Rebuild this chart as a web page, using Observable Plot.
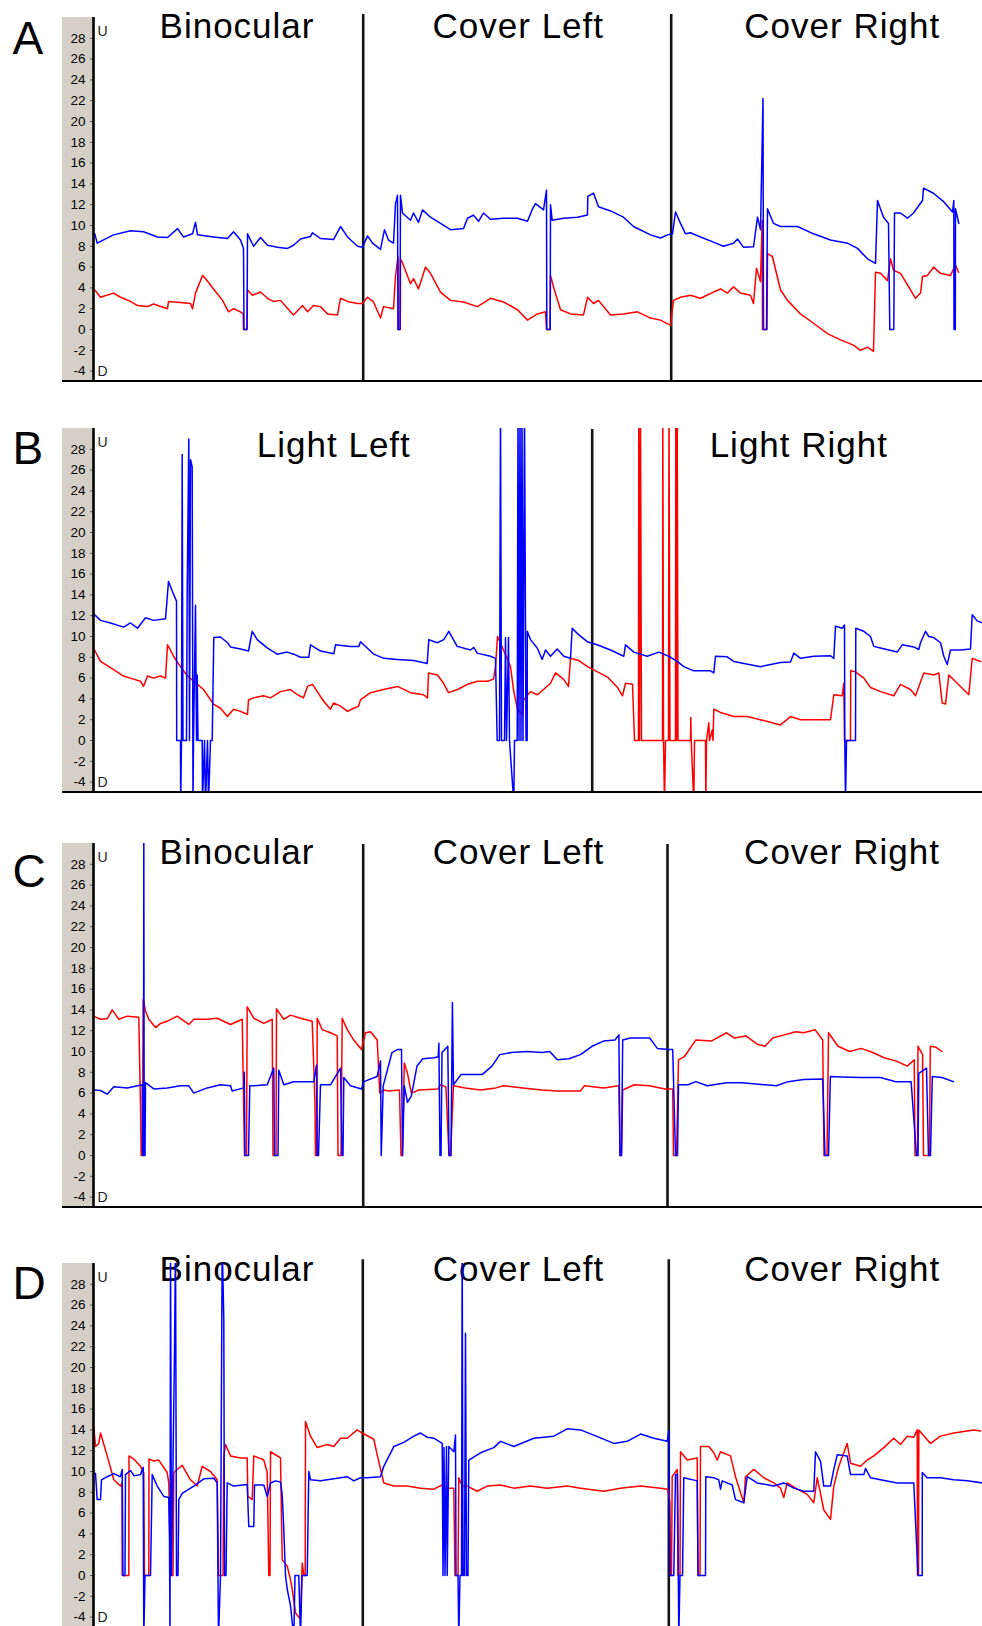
<!DOCTYPE html>
<html><head><meta charset="utf-8">
<script src="https://cdn.jsdelivr.net/npm/d3@7"></script>
<script src="https://cdn.jsdelivr.net/npm/@observablehq/plot@0.6"></script>
<style>
html,body{margin:0;padding:0;background:#fff;}
#chart{position:relative;width:982px;height:1626px;overflow:hidden;}
.band{position:absolute;background:#d4d0c8;}
.base{position:absolute;background:#000;}
.panel{position:absolute;left:0;}
</style></head><body><div id="chart"></div>
<script>
// y axis ticks (degrees; U = up, D = down)
const yTicks = [-4,-2,0,2,4,6,8,10,12,14,16,18,20,22,24,26,28];
const panelLetters = ["A","B","C","D"];
// condition labels and their centre time
const titlesA = [{t:143.5,label:"Binocular"},{t:424.8,label:"Cover Left"},{t:748.7,label:"Cover Right"}];
const titlesB = [{t:240.3,label:"Light Left"},{t:705.3,label:"Light Right"}];
const titlesC = [{t:143.5,label:"Binocular"},{t:425,label:"Cover Left"},{t:748.5,label:"Cover Right"}];
const titlesD = [{t:143.5,label:"Binocular"},{t:425,label:"Cover Left"},{t:748.7,label:"Cover Right"}];
// condition change times
const dividersA = [269.7, 577.7];
const dividersB = [498.7];
const dividersC = [269.7, 574];
const dividersD = [269.3, 575.3];

// series: [time, value]
const aBlue = [[1.3,9.2],[3.7,8.3],[20,9.1],[37,9.5],[50,9.4],[64,8.9],[74,8.85],[84,9.7],[90,8.9],[99,9.2],[102,10.3],[104,9.1],[120,8.9],[134,8.75],[140,9.4],[147,8.6],[150,7.8],[150.5,0],[153.5,0],[154,9.2],[160,8.0],[167,8.85],[174,8.1],[184,7.9],[194,7.8],[200,8.1],[207,8.7],[217,8.95],[219,9.3],[227,8.75],[240,8.65],[247,9.9],[254,8.9],[264,8.0],[269,7.9],
[274,9.0],[279,8.3],[287,7.7],[291,9.6],[295,8.6],[300,8.3],[302,12.1],[304,12.9],[304.5,0],[306.5,0],[307,12.9],[309,11.2],[317,10.5],[320,11.2],[325,10.3],[329,11.5],[337,10.8],[347,10.2],[357,9.6],[370,9.7],[374,10.7],[380,11.0],[385,10.4],[390,11.2],[397,10.6],[410,10.7],[424,10.7],[434,10.4],[439,11.6],[442,12.1],[450,11.5],[453,13.4],[453.3,0],[456.7,0],[457,12.0],[458.7,10.5],[470,10.7],[484,10.8],[494,11.0],[494.3,12.8],[500,13.1],[505,11.8],[517,11.4],[530,10.8],[540,9.9],[557,9.1],[567,8.8],[574,9.1],[579,9.2],
[582,11.3],[587,10.2],[592,9.2],[597,9.3],[607,8.9],[620,8.4],[630,8.0],[640,8.3],[644,8.7],[650,7.9],[660,7.95],[664,10.8],[667,9.6],[669.5,22.2],[670,0],[673,0],[674,11.6],[680,10.2],[687,9.9],[704,9.9],[720,9.2],[737,8.6],[754,8.3],[764,7.8],[774,6.8],[782,6.35],[784,12.4],[790,10.8],[795,10.2],[796.3,0],[800.3,0],[801,11.2],[807,11.2],[814,10.7],[820,11.2],[829,12.4],[830,13.6],[840,13.1],[850,12.3],[859,11.3],[860.3,12.4],[860.5,0],[861.8,0],[862,11.6],[865.3,10.2]];
const aRed = [[1.3,3.8],[7,3.1],[20,3.5],[27,3.1],[37,2.7],[44,2.3],[54,2.2],[60,2.45],[74,2.0],[75,2.7],[87,2.6],[97,2.5],[99,2.0],[102,3.5],[109,5.2],[112,4.9],[120,3.9],[129,2.8],[135,1.7],[140,2.0],[147,1.7],[149.7,1.5],[150,0],[153.5,0],[154,3.8],[159,3.3],[167,3.6],[174,3.0],[180,2.7],[187,2.8],[197,1.7],[200,1.4],[209,2.3],[214,1.7],[220,2.3],[227,2.2],[234,1.5],[244,1.4],[247,3.0],[254,2.7],[264,2.5],[269,2.5],
[274,3.1],[280,2.65],[287,1.1],[290,2.2],[300,2.0],[302,5.1],[304.5,7.0],[304.7,0],[306.8,0],[307,6.8],[309,6.4],[317,4.4],[320,4.9],[325,3.9],[332,6.0],[337,5.4],[347,3.6],[357,2.8],[370,2.65],[384,2.2],[397,3.0],[410,2.65],[424,1.9],[434,0.9],[444,1.5],[452,1.7],[453,0],[456.5,0],[457,5.2],[460,4.1],[467,1.9],[477,1.5],[490,1.4],[494,3.1],[500,2.5],[505,2.8],[517,1.4],[530,1.5],[544,1.7],[557,1.1],[567,0.9],[577,0.4],
[580,2.8],[587,3.1],[597,3.3],[607,3.0],[620,3.6],[627,3.9],[634,3.5],[640,4.1],[647,3.5],[657,3.3],[660,2.5],[663,5.9],[667,4.6],[668.7,10.5],[669,0],[673.5,0],[674,7.3],[679,7.0],[687,3.8],[694,2.8],[707,1.5],[720,0.6],[734,-0.4],[747,-1.0],[760,-1.5],[767,-2.0],[774,-1.7],[780,-2.1],[782,5.5],[787,5.4],[794,4.7],[797,6.8],[800,5.7],[807,5.4],[817,3.8],[822,3.0],[827,3.5],[829,5.1],[834,5.2],[840,6.0],[847,5.4],[857,5.2],[862,6.2],[865,5.5]];

const bBlue = [[1,12.1],[7,11.55],[17,11.3],[30,10.9],[37,11.3],[44,10.8],[52,11.8],[60,11.55],[72,11.7],[75,15.3],[79,14.3],[83,13.4],[83.2,0],[87,0],[87.2,-6],[88,0],[88.7,27.5],[89.5,0],[93,0],[93.7,14.3],[95.3,29.0],[96,0],[97,27.0],[98.7,26.3],[99.5,-6],[100,0],[102,13.0],[103,0],[103.7,6.3],[104.5,0],[108.7,0],[109,-6],[111,0],[112,-6],[114,0],[115,-6],[117,0],[118.7,0],[119.5,5.0],[120.3,9.9],[127,9.95],[134,9.4],[137,9.0],[147,8.8],[155,8.6],[158.7,10.5],[163.7,9.7],[173.7,8.9],[183.7,8.3],[193.7,8.5],[200.3,8.3],[207,8.0],[215.3,8.0],[217,9.2],[227,8.6],[240.3,8.35],[242,9.2],[257,9.05],[265.3,9.05],[267,9.5],[273.7,8.9],[280.3,8.3],[290.3,7.9],[303.7,7.8],[320.3,7.7],[333.7,7.4],[335.3,9.7],[343.7,9.4],[350.3,9.7],[355.3,10.5],[363.7,9.05],[377,8.7],[380.3,8.95],[383.7,8.4],[397,8.1],[402,7.9],[403.7,0],[406,0],[407,32],[408,0],[411,0],[412,9.9],[413,0],[415,9.9],[416,0],[420.3,-6],[421,0],[423.7,0],[424.5,32],[425.5,0],[426.5,32],[427.5,0],[428.5,32],[429.5,0],[431,32],[432.5,0],[433.7,0],[433.8,10.5],[437,9.7],[443.7,8.9],[448.7,7.8],[452,8.7],[457,8.1],[463.7,8.8],[470.3,8.1],[477,7.9],[478.7,10.8],[483.7,10.3],[493.7,9.5],[503.7,9.2],[517,8.7],[530.3,8.1],[532,9.2],[540.3,8.5],[553.7,8.1],[565.3,8.5],[575.3,8.1],[583.7,7.6],[590.3,7.1],[600.3,6.7],[617,6.7],[620.3,6.5],[622,8.1],[633.7,8.05],[640.3,7.6],[667,7.1],[687,7.5],[697,7.55],[700.3,8.4],[707,7.9],[720.3,8.1],[737,8.15],[740.3,7.9],[742,11.0],[748.7,10.8],[751,11.1],[751.3,0],[752,-6],[753,0],[762,0],[762.3,10.8],[770.3,10.5],[777,10.0],[780.3,9.05],[787,8.9],[803.7,8.5],[808.7,9.2],[820.3,9.0],[825.3,8.75],[827,9.4],[832,10.5],[835.3,10.0],[840.3,9.9],[847,9.4],[850.3,8.1],[853.7,7.3],[857,8.7],[867,8.7],[877,8.8],[878.7,12.1],[883.7,11.5],[889,11.3]];
const bRed = [[1,8.7],[7,7.6],[17,7.0],[30,6.2],[40,5.9],[47,5.7],[50,5.2],[54,6.2],[60,6.0],[67,6.2],[72,6.0],[74,9.2],[77,8.7],[80,8.1],[87,7.1],[94,6.2],[104,5.4],[110,4.9],[120,3.5],[127,3.1],[134,2.3],[140,3.0],[147,2.8],[154,2.5],[155,3.9],[160,4.1],[170,4.3],[177,4.1],[187,4.7],[197,4.9],[204,4.4],[210,4.1],[214,5.2],[219,5.4],[230,3.8],[237,3.0],[240,3.6],[247,3.3],[254,2.8],[260,3.1],[265,3.3],[267,3.9],[277,4.6],[290,4.9],[304,5.2],[317,4.6],[330,4.4],[334,4.1],[335,6.5],[344,6.3],[350,5.5],[355,4.6],[364,4.9],[374,5.4],[384,5.7],[394,5.7],[400,5.9],[402,7.1],[404,10.0],[410,8.7],[417,7.1],[420,4.9],[424,3.0],[429,2.5],[430,3.9],[437,4.7],[444,4.4],[450,4.9],[457,5.5],[462,6.5],[470,5.9],[475,5.2],[477,7.9],[485,7.7],[494,7.1],[504,6.6],[514,6.1],[524,5.1],[529,4.3],[532,5.5],[539,5.4],[541,0],[545,0],[545.3,32],[546,0],[547,32],[548,0],[569,0],[569.3,32],[570,0],[571,-6],[572,0],[575,0],[575.5,32],[576.5,0],[582,0],[582.3,32],[583,0],[583.7,32],[584.5,0],[597,0],[597.3,2.2],[597.7,0],[600.3,-6],[601,0],[612,0],[612.3,-6],[613,0],[615.3,1.7],[616,0],[618.7,1.0],[619.5,0],[620.3,3.0],[627,2.7],[640.3,2.3],[653.7,2.3],[667,2.0],[687,1.5],[697,2.3],[707,2.0],[720.3,2.0],[737,2.0],[740.3,4.4],[748.7,4.3],[750.3,5.5],[751,0],[757,0],[757.2,6.7],[762,6.6],[770.3,6.0],[777,5.1],[787,4.7],[800.3,4.3],[807,5.4],[817,4.9],[822,4.3],[830.3,6.5],[840.3,6.3],[845.3,6.5],[848.7,3.6],[852,3.5],[855.3,6.3],[863.7,5.5],[875.3,4.4],[878.7,7.9],[887,7.6]];

const cBlue = [[0.3,6.3],[7,6.25],[13.7,5.9],[20.3,6.6],[33.7,6.5],[48.7,6.8],[49,0],[50,0],[50.3,32],[50.7,0],[51.5,0],[52,7.0],[60.3,6.4],[73.7,6.5],[87,6.7],[95.3,6.7],[100.3,6.0],[113.7,6.5],[127,6.8],[137,6.7],[138.7,6.2],[150.3,6.5],[150.8,8.0],[151.5,0],[155,0],[156.3,6.7],[160.3,6.7],[173.7,6.8],[180.3,8.4],[181,0],[184.5,0],[185.3,8.2],[190.3,6.8],[200.3,7.1],[220.3,7.1],[223,8.7],[223.7,0],[225,0],[227,6.8],[237,6.8],[247,8.4],[248.5,0],[249.5,0],[250.3,7.5],[257,6.7],[268,6.4],[270.3,7.1],[283.7,7.6],[287,9.1],[287.7,0],[288.5,2.5],[289.7,6.7],[298.5,9.9],[304.3,10.2],[308,10.2],[309,0],[310.8,6.7],[314,5.1],[317.8,5.7],[323.5,8.6],[329.3,9.3],[340.8,9.4],[344.7,9.5],[345.4,10.8],[346.5,0],[347.5,0],[348.5,9.9],[354.3,10.5],[355.5,0],[357.5,0],[358.9,14.7],[360,6.8],[367.7,7.8],[388.9,7.8],[398.5,8.6],[406.2,9.7],[417.7,9.9],[433.1,10.0],[448.5,9.9],[456.2,10.0],[463.9,9.2],[475.4,9.3],[487,9.7],[498.5,10.5],[510,11.0],[521.5,11.1],[525.4,11.6],[526.5,0],[528,0],[529.2,11.1],[536.9,11.3],[556.2,11.3],[563.8,10.3],[575.4,10.2],[579.2,10.2],[582,0],[584,0],[585,6.8],[594.6,6.8],[602.3,7.1],[613.8,6.7],[633,7.0],[648.4,7.0],[671.5,6.8],[683,6.7],[694.6,7.1],[710,7.3],[729.2,7.35],[731.5,0],[735,0],[736.9,7.6],[748.4,7.55],[767.6,7.5],[786.9,7.5],[802.2,7.1],[817.6,7.1],[823,0],[824.5,0],[825.3,7.9],[833,8.4],[835,0],[837,0],[838.8,7.6],[848.4,7.5],[859.9,7.1]];
const cRed = [[0.3,13.4],[7,13.1],[13.7,13.15],[18.7,14.0],[25.3,13.1],[33.7,13.4],[45.3,13.3],[47,4.7],[47.7,0],[49,0],[49.7,15.0],[52,13.9],[55.3,13.1],[62,12.3],[67,12.7],[73.7,12.9],[83.7,13.4],[95.3,12.6],[100.3,13.1],[113.7,13.1],[123.7,13.2],[137,12.6],[148.7,13.1],[150.3,4.0],[151,0],[153,0],[153.7,14.3],[160.3,13.2],[170.3,12.7],[178.7,13.1],[179.5,0],[182.5,0],[183,14.1],[190.3,13.1],[197,13.5],[207,13.2],[218.7,12.9],[221.5,5.0],[222,0],[223.5,0],[223.7,13.2],[228.7,12.1],[237,11.8],[243.7,11.5],[244.5,0],[247.5,0],[248.7,13.2],[253.7,12.1],[260.3,11.1],[268,10.2],[272,11.8],[277,11.9],[283.7,11.1],[286.3,6.0],[290.3,6.3],[295.3,6.2],[306,6.3],[307.5,0],[309,0],[310.8,8.9],[314,7.9],[317.8,6.0],[325.5,6.3],[344.7,6.4],[346.6,6.8],[352.4,6.6],[355.5,0],[357,0],[360,6.7],[371.6,6.5],[387,6.3],[402.4,6.5],[410,6.7],[429.3,6.5],[448.5,6.3],[463.9,6.2],[487,6.2],[490.8,6.7],[510,6.5],[525.4,6.7],[526.5,0],[528,0],[529.2,6.3],[540.8,6.8],[556,6.7],[571.5,6.4],[579.2,6.4],[580,0],[583,0],[585,9.2],[590.8,9.5],[602.3,11.1],[617.7,11.0],[633,11.8],[640.7,11.3],[652.3,11.5],[663.8,10.7],[671.5,10.5],[679.2,11.3],[690.7,11.6],[702.3,11.9],[710,11.8],[721.5,12.1],[729.2,11.1],[730.5,0],[733.5,0],[735,11.8],[744.6,10.5],[756,10.0],[767.6,10.3],[779.2,9.9],[790.7,9.4],[802.2,9.1],[813.8,8.6],[820.7,9.2],[821.5,0],[824,0],[824.5,10.5],[829.1,9.7],[830,0],[836,0],[836.8,10.5],[842.6,10.4],[848.4,10.0]];

const dBlue = [[0.3,9.9],[2,9.8],[3.7,7.3],[7,7.3],[8,9.2],[13.7,9.5],[20.3,9.8],[27,9.5],[28.7,10.2],[29.5,0],[31.5,0],[32,9.7],[37,10.1],[40.3,9.6],[47,9.7],[49.7,10.4],[50.3,-6],[51.5,0],[57,0],[58.7,9.7],[63.7,8.6],[70.3,7.6],[75.3,7.5],[76,3.6],[76.5,-6],[77,32],[78,0],[81,21.5],[82,32],[83,0],[84.5,0],[85.3,7.3],[88.7,7.9],[100.3,8.6],[110.3,9.3],[120.3,9.35],[123.7,8.9],[125,-6],[127,0],[128.7,32],[130.3,24.6],[131,0],[132.5,0],[133.7,8.9],[140.3,8.6],[153.7,8.75],[155.3,4.7],[160.3,4.7],[161,8.7],[170.3,8.7],[173.7,7.6],[177,8.9],[182,9.1],[187,9.0],[188.7,7.8],[190.3,4.4],[192,0],[193.7,-1.3],[197,-2.9],[200.3,-6],[201.5,0],[205.3,0],[207,-6],[208.5,0],[213.7,0],[215.3,10.0],[217,9.2],[227,9.1],[240.3,9.3],[253.7,9.5],[260.3,9.1],[267,9.4],[273.7,9.4],[287,9.5],[290.3,10.5],[300.3,12.4],[310.3,12.8],[320.3,13.4],[327,13.7],[333.7,13.3],[340.3,13.2],[348.7,12.7],[349.5,0],[350.5,12.3],[351.5,0],[353,12.4],[353.7,0],[355.3,12.4],[360.3,11.9],[362,13.5],[362.5,0],[364.5,0],[365.3,-6],[366.5,0],[368,0],[368.7,32],[369.5,0],[371,0],[372,23.3],[373,0],[374.5,0],[375.3,11.1],[387,11.8],[400.3,12.3],[407,12.9],[420.3,12.4],[440.3,13.2],[460.3,13.4],[473.7,14.1],[487,14.0],[500.3,13.5],[520.3,12.7],[533.7,12.9],[547,13.6],[560.3,13.2],[573.7,12.9],[575.3,13.9],[576.5,0],[580.3,0],[582,9.7],[584,9.7],[585.3,-6],[586.5,0],[589,0],[590.3,9.4],[603.7,9.1],[604.5,0],[612,0],[612.3,9.5],[620.3,9.4],[625.3,9.2],[627,8.3],[628.7,9.1],[638.7,8.7],[642,7.3],[650.3,7.0],[653.7,9.5],[663.7,8.9],[680.3,8.6],[690.3,8.9],[700.3,8.4],[710.3,8.1],[720.3,8.1],[722,11.9],[727,11.0],[730.3,8.6],[737,8.6],[740.3,10.2],[743.7,11.6],[753.7,11.5],[757,9.7],[770.3,9.7],[772,10.3],[777,9.4],[787,9.2],[803.7,8.9],[820.3,8.9],[824.5,0],[828.7,0],[828.8,9.9],[833.7,9.4],[847,9.4],[860.3,9.2],[873.7,9.1],[889,8.9]];
const dRed = [[0.3,14.3],[2,12.4],[5.3,12.7],[7,13.7],[13.7,11.5],[20.3,9.2],[27,8.6],[28.5,8.9],[28.7,0],[35.3,0],[35.5,11.5],[40.3,11.2],[47,10.5],[50.3,9.9],[51,0],[55.3,0],[55.5,11.2],[60.3,11.0],[65.3,11.1],[73.7,9.9],[75.3,8.9],[77,0],[79.5,0],[80.3,9.9],[88.7,10.6],[97,9.2],[103.7,8.6],[108.7,10.5],[117,10.0],[123.7,9.2],[125,0],[129.5,0],[130.3,11.5],[132,12.6],[137,11.5],[147,11.3],[153.7,11.3],[154.3,7.6],[158.7,7.3],[160.3,11.5],[170.3,11.1],[173.7,9.9],[175.3,0],[176.5,0],[177,11.9],[187,11.3],[188.7,1.5],[193.7,0.9],[197,-0.4],[198.7,-1.3],[202,-3.6],[207,-4.2],[208.7,1.2],[210.3,0],[211.7,0],[212,14.8],[217,13.4],[223.7,12.3],[233.7,12.6],[240.3,12.4],[247,13.2],[253.7,13.2],[263.7,14.0],[268.7,13.7],[280.3,13.1],[283.7,11.6],[290.3,8.9],[300.3,8.6],[313.7,8.6],[327,8.4],[340.3,8.3],[348.7,8.7],[352,8.4],[360.3,8.4],[361.5,0],[364.5,0],[365.3,9.4],[368.7,8.6],[373.7,8.6],[383.7,8.1],[393.7,8.6],[407,8.7],[420.3,8.4],[437,8.6],[453.7,8.4],[473.7,8.6],[487,8.4],[510.3,8.1],[527,8.4],[547,8.6],[567,8.4],[574.3,8.3],[576.3,7.0],[577,0],[578,0],[578.7,9.5],[583.7,10.2],[584.5,0],[586.5,0],[587,11.9],[593.7,11.1],[603.7,11.3],[604.5,0],[606.5,0],[607,12.4],[615.3,12.4],[620.3,11.8],[623.7,11.1],[627,11.9],[637,11.5],[642,9.5],[650.3,7.0],[652,9.5],[660.3,10.2],[670.3,9.4],[680.3,8.9],[687,8.4],[690.3,7.5],[693.7,8.9],[703.7,8.3],[713.7,7.8],[720.3,7.0],[723.7,9.4],[727,7.9],[730.3,6.3],[737,5.4],[740.3,8.6],[745.3,10.5],[753.7,12.7],[757,10.8],[767,10.5],[773.7,11.1],[780.3,11.5],[790.3,12.3],[800.3,13.2],[807,12.6],[813.7,13.4],[820.3,13.3],[823.7,14.0],[824,0],[825,0],[825.3,14.0],[837,12.7],[847,13.4],[860.3,13.7],[873.7,13.9],[880.3,14.0],[887,13.9]];

const panels = [
  {letter: panelLetters[0], top: 17,   titles: titlesA, dividers: dividersA, blue: aBlue, red: aRed, titleBase: 20.3, letterBase: 36, divTop: 30.3},
  {letter: panelLetters[1], top: 428,  titles: titlesB, dividers: dividersB, blue: bBlue, red: bRed, titleBase: 28.7, letterBase: 35, divTop: 29.9},
  {letter: panelLetters[2], top: 843,  titles: titlesC, dividers: dividersC, blue: cBlue, red: cRed, titleBase: 20.3, letterBase: 43, divTop: 29.9},
  {letter: panelLetters[3], top: 1263, titles: titlesD, dividers: dividersD, blue: dBlue, red: dRed, titleBase: 17, letterBase: 35, divTop: 30.35}
];

const chart = document.getElementById("chart");
const MT = 20, MB = 6, H = 364, ML = 93;
const font = "'Liberation Sans', Arial, Helvetica, sans-serif";
const toObj = arr => arr.map(([t, v]) => ({t, v}));

for (const p of panels) {
  const band = document.createElement("div");
  band.className = "band";
  Object.assign(band.style, {left: "62px", top: p.top + "px", width: "31px", height: H + "px"});
  chart.appendChild(band);

  const svg = Plot.plot({
    width: 982, height: MT + H + MB,
    marginTop: MT, marginBottom: MB, marginLeft: ML, marginRight: 0,
    x: {domain: [0, 889], axis: null},
    y: {domain: [-5, 30], axis: null},
    style: {background: "transparent", fontFamily: font, fontSize: "13.5px", color: "#111", overflow: "visible"},
    marks: [
      Plot.ruleX(p.dividers, {x: d => d, y1: p.divTop, y2: -5, stroke: "#141414", strokeWidth: 2.6}),
      Plot.text(p.titles, {x: "t", text: "label", frameAnchor: "top", dy: p.titleBase, lineAnchor: "bottom", textAnchor: "middle", fontSize: 35, fill: "#000"}),
      Plot.line(toObj(p.red), {x: "t", y: "v", stroke: "#ff0000", strokeWidth: 1.5, clip: true}),
      Plot.line(toObj(p.blue), {x: "t", y: "v", stroke: "#0000ff", strokeWidth: 1.5, clip: true}),
      Plot.axisY({ticks: yTicks, tickFormat: d => String(d), tickSize: 3, tickPadding: 5, fontSize: 13.5, label: null, fill: "#000", stroke: "#555"}),
      Plot.ruleX([0], {stroke: "#000", strokeWidth: 2.6}),
      Plot.text(["U"], {text: d => d, frameAnchor: "top-left", dx: 4, dy: 18.5, lineAnchor: "bottom", textAnchor: "start", fontSize: 14, fill: "#222"}),
      Plot.text(["D"], {text: d => d, frameAnchor: "top-left", dx: 4, dy: 358.5, lineAnchor: "bottom", textAnchor: "start", fontSize: 14, fill: "#222"}),
      Plot.text([p.letter], {text: d => d, frameAnchor: "top-left", dx: -81, dy: p.letterBase, lineAnchor: "bottom", textAnchor: "start", fontSize: 46, fill: "#000"})
    ]
  });
  svg.querySelectorAll('[font-size="35"]').forEach(el => el.setAttribute("letter-spacing", "1"));
  const wrap = document.createElement("div");
  wrap.className = "panel";
  wrap.style.top = (p.top - MT) + "px";
  wrap.appendChild(svg);
  chart.appendChild(wrap);

  const base = document.createElement("div");
  base.className = "base";
  Object.assign(base.style, {left: "62px", top: (p.top + H - 1.25) + "px", width: "920px", height: "2.5px"});
  chart.appendChild(base);
}
</script>
</body></html>
